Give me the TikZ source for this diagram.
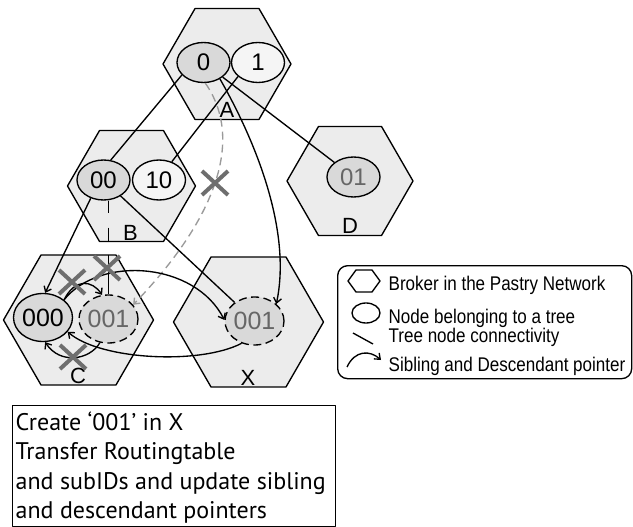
\documentclass[tikz,border=0pt]{standalone}
\usepackage{fontspec}
\setmainfont{Liberation Sans}
\newfontfamily\notefont{PT Sans}
\newfontfamily\keyfont[FakeStretch=0.86]{Liberation Sans}
\usetikzlibrary{shapes.geometric,shapes.misc,arrows.meta}

\definecolor{hexfill}{HTML}{ECECEC}
\definecolor{darkfill}{HTML}{D9D9D9}
\definecolor{lightfill}{HTML}{F5F5F5}
\definecolor{ghost}{HTML}{666666}
\definecolor{crossgray}{HTML}{6E6E6E}
\definecolor{dashgray}{HTML}{9A9A9A}

\begin{document}
\begin{tikzpicture}[x=1pt,y=1pt,line width=1.35pt,line join=round,
  broker/.style={regular polygon,regular polygon sides=6,draw=black,fill=hexfill,
    inner sep=0pt,outer sep=0pt,minimum size=#1},
  treenode/.style={ellipse,draw=black,inner sep=0pt,minimum width=53pt,minimum height=40pt,
    font=\fontsize{24}{24}\selectfont},
  bignode/.style={ellipse,draw=black,inner sep=0pt,minimum width=57pt,minimum height=48pt,
    font=\fontsize{25}{25}\selectfont},
  moved/.style={dash pattern=on 8pt off 4.5pt,text=ghost},
  hexlabel/.style={font=\fontsize{22}{22}\selectfont,inner sep=0pt},
  ptr/.style={-{Straight Barb[length=5pt,width=8pt]}},
  struck/.style={cross out,draw=crossgray,line width=4pt,minimum width=22pt,
    minimum height=20pt,inner sep=0pt},
  keytext/.style={font=\keyfont\fontsize{19.8}{19.8}\selectfont,anchor=base west,inner sep=0pt}]

\useasboundingbox (0,0) rectangle (633,-527);

% brokers
\node[broker=128pt] (hexA) at (227,-64) {};
\node[broker=128pt] (hexB) at (131.5,-186) {};
\node[broker=126pt] (hexD) at (350,-181) {};
\node[broker=150pt] (hexC) at (78.5,-320) {};
\node[broker=150pt] (hexX) at (248.5,-322) {};

\node[hexlabel] (labA) at (227,-110) {A};
\node[hexlabel] (labB) at (130.5,-232.5) {B};
\node[hexlabel] (labD) at (350,-226) {D};
\node[hexlabel] (labC) at (78,-376) {C};
\node[hexlabel] (labX) at (248,-378) {X};

% tree nodes
\node[treenode,fill=darkfill] (a0) at (203.5,-62.5) {0};
\node[treenode,fill=lightfill] (a1) at (258,-62.5) {1};
\node[treenode,fill=darkfill] (b00) at (103.5,-180) {00};
\node[treenode,fill=lightfill] (b10) at (159,-180) {10};
\node[treenode,fill=darkfill,text=ghost] (d01) at (353.5,-177) {01};
\node[bignode,fill=darkfill] (c000) at (43,-317.5) {000};
\node[bignode,fill=darkfill,moved] (c001) at (108.5,-319) {001};
\node[bignode,fill=darkfill,moved] (x001) at (254.5,-321) {001};

% tree connectivity
\draw (a0.210) -- (b00.70);
\draw (a1.215) -- (b10.55);
\draw (a0) -- (d01);
\draw (b00) -- (x001);
\draw[ptr] (b00.235) -- (c000.85);
\draw[dash pattern=on 12pt off 15pt on 14pt off 13pt on 60pt]
  (c001.north |- b00.south) -- (c001.north);

% sibling and descendant pointers
\draw[ptr] (a0.-45) .. controls (255,-140) and (292,-230) .. (x001.38);
\draw[ptr,dashgray,dash pattern=on 8pt off 5pt]
  (a0.-85) .. controls (245,-140) and (215,-220) .. (c001.30);
\draw[ptr] (c000.40) .. controls (100,-255) and (195,-262) .. (x001.178);
\draw[ptr] (c000.40) .. controls (75,-278) and (92,-280) .. (c001.105);
\draw[ptr] (x001.240) .. controls (200,-365) and (100,-360) .. (c000.-30);
\draw[ptr] (c001.250) .. controls (90,-360) and (60,-365) .. (c000.275);

% removed links
\node[struck] (cut1) at (72,-282) {};
\node[struck] (cut2) at (107,-268) {};
\node[struck] (cut3) at (73,-357) {};
\node[struck] (cut4) at (215,-183) {};

% key
\node[draw,rounded corners=10pt,minimum width=294pt,minimum height=113pt,
  inner sep=0pt,anchor=north west] (key) at (337,-265) {};
\draw (348,-281) -- (356,-270) -- (372,-270) -- (380,-281) -- (372,-292) -- (356,-292) -- cycle;
\draw (366,-313) ellipse [x radius=14pt,y radius=10pt];
\draw (353,-333) -- (373,-344);
\draw[ptr] (347,-367) .. controls (355,-350) and (370,-350) .. (381,-360);
\node[keytext] (k1) at (388,-290) {Broker in the Pastry Network};
\node[keytext] (k2) at (388,-323) {Node belonging to a tree};
\node[keytext] (k3) at (388,-342) {Tree node connectivity};
\node[keytext] (k4) at (388,-371) {Sibling and Descendant pointer};

% step description
\node[draw,minimum width=323pt,minimum height=121pt,inner sep=0pt,anchor=north west]
  (note) at (12,-405) {};
\node[anchor=north west,align=left,inner sep=0pt,
  font=\notefont\fontsize{24}{29.5}\selectfont] (notetext) at (15,-411) {%
  Create ‘001’ in X\\
  Transfer Routingtable\\
  and subIDs and update sibling\\
  and descendant pointers};
\end{tikzpicture}
\end{document}
